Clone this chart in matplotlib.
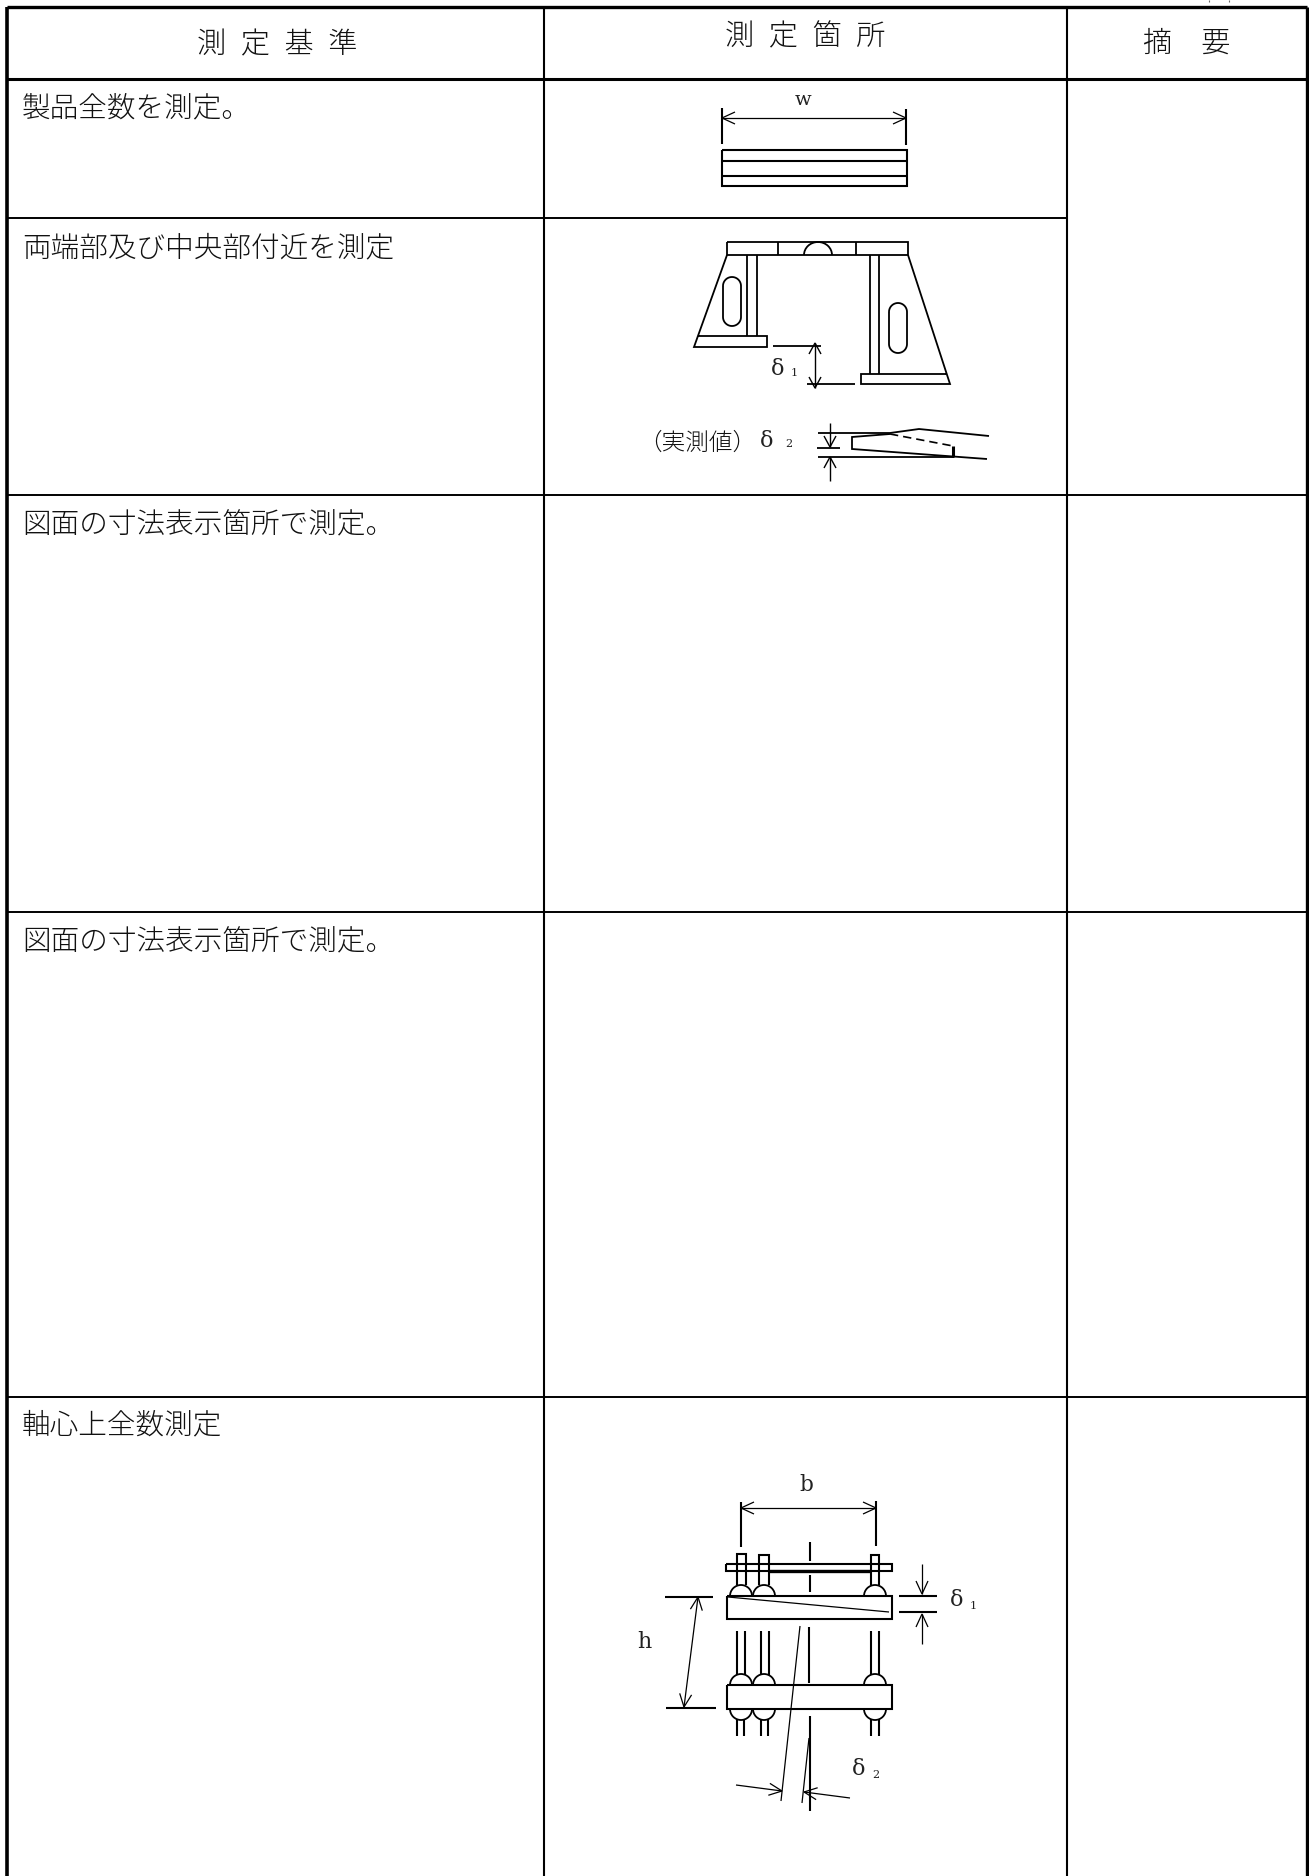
import numpy as np
import matplotlib
matplotlib.use("Agg")
import matplotlib.pyplot as plt
from matplotlib.patches import Arc

W, H = 1309, 1876
JP = ['Noto Sans CJK JP', 'DejaVu Sans']
SERIF = ['DejaVu Serif', 'Liberation Serif']
INK = '#111111'

# ---- table structure ----
col_edges = [7, 544, 1067, 1307]
row_edges = [7, 79, 218, 495, 912, 1397]
headers = ['測\u2002定\u2002基\u2002準', '測\u2002定\u2002箇\u2002所', '摘\u3000要']
header_pos = [(277, 45), (805, 37), (1187, 43)]
criteria = ['製品全数を測定。', '両端部及び中央部付近を測定', '図面の寸法表示箇所で測定。',
            '図面の寸法表示箇所で測定。', '軸心上全数測定']
criteria_y = [108, 248, 525, 942, 1425]

# ---- sketch 1 : width ----
w_rect = [(722, 150), (907, 150), (907, 186), (722, 186), (722, 150)]
w_inner = [[(722, 161), (907, 161)], [(722, 176), (907, 176)]]
w_ext = [[(722, 108), (722, 144)], [(906, 109), (906, 145)]]
w_arrow = [(722, 118), (906, 118)]

# ---- sketch 2 : bracket ----
br_lines = [
    [(727, 242), (908, 242), (908, 255), (727, 255), (727, 242)],
    [(778, 242), (778, 255)], [(856, 242), (856, 255)],
    [(727, 255), (694, 347), (767, 347), (767, 336), (698, 336)],
    [(747, 255), (747, 336)], [(757, 255), (757, 336)],
    [(908, 255), (950, 384), (861, 384), (861, 374), (946, 374)],
    [(870, 255), (870, 374)], [(879, 255), (879, 374)],
    [(773, 346), (821, 346)], [(807, 384), (855, 384)],
    [(818, 433), (890, 433), (919, 429), (989, 436)],
    [(817, 448), (840, 448)],
    [(818, 457), (954, 457)],
    [(890, 434), (852, 437), (852, 449), (987, 459)],
]
br_thick = [[(953, 446), (953, 457)]]
br_dash = [(890, 434), (953, 446)]
br_dome = (818, 255, 28, 26)
br_slots = [(723, 741, 277, 326), (889, 907, 303, 353)]
br_arrows = [((815, 343), (815, 388), True), ((830, 423), (830, 447), False), ((830, 481), (830, 457), False)]

# ---- sketch 3 : frame ----
fr_lines = [
    [(741, 1502), (741, 1547)], [(876, 1501), (876, 1546)],
    [(810, 1542), (810, 1561)], [(810, 1575), (810, 1592)],
    [(809, 1627), (809, 1683)], [(810, 1716), (810, 1811)],
    [(726, 1564), (892, 1564), (892, 1571), (726, 1571), (726, 1564)],
    [(737, 1585), (737, 1554), (746, 1554), (746, 1585)],
    [(759, 1585), (759, 1555), (769, 1555), (769, 1585)],
    [(871, 1585), (871, 1555), (879, 1555), (879, 1585)],
    [(727, 1596), (892, 1596), (892, 1619), (727, 1619), (727, 1596)],
    [(727, 1685), (892, 1685), (892, 1709), (727, 1709), (727, 1685)],
    [(737, 1631), (737, 1675)], [(745, 1631), (745, 1675)],
    [(761, 1631), (761, 1675)], [(769, 1631), (769, 1675)],
    [(871, 1631), (871, 1675)], [(879, 1631), (879, 1675)],
    [(737, 1719), (737, 1736)], [(744, 1719), (744, 1736)],
    [(761, 1719), (761, 1736)], [(768, 1719), (768, 1736)],
    [(871, 1719), (871, 1736)], [(879, 1719), (879, 1736)],
    [(665, 1597), (713, 1597)], [(666, 1708), (716, 1708)],
    [(899, 1596), (937, 1596)], [(899, 1612), (937, 1612)],
]
fr_thin = [
    [(728, 1597), (889, 1612)],
    [(800, 1626), (781, 1801)],
    [(809, 1738), (802, 1803)],
]
fr_dome_x = [741, 764, 875]
fr_dome_y = [(1596, True), (1685, True), (1709, False)]
fr_arrows = [
    ((741, 1508), (876, 1508), True),
    ((698, 1597), (684, 1707), True),
    ((922, 1564), (922, 1594), False),
    ((922, 1644), (922, 1614), False),
    ((736, 1785), (782, 1791), False),
    ((850, 1798), (804, 1792), False),
]

# ---- labels ----
latin_labels = [('w', 803, 100, 14), ('b', 806, 1485, 15.5), ('h', 644, 1642, 16),
                ('δ', 778, 369, 16), ('1', 794, 373, 8),
                ('δ', 767, 441, 16), ('2', 789, 444, 8),
                ('δ', 957, 1600, 16), ('1', 973, 1606, 8),
                ('δ', 859, 1769, 16), ('2', 876, 1775, 8)]
jp_labels = [('（実測値）', 697, 443, 17)]
stray = [[(1209, 0), (1209, 2)], [(1229, 0), (1229, 2)]]

fig = plt.figure(figsize=(W / 100, H / 100), dpi=100, facecolor='white')
ax = fig.add_axes([0, 0, 1, 1])
ax.set_xlim(0, W)
ax.set_ylim(H, 0)
ax.axis('off')


def poly(points, lw=1.4, color='black', ls='-'):
    xs, ys = zip(*points)
    ax.plot(xs, ys, color=color, lw=lw, ls=ls, solid_capstyle='butt', solid_joinstyle='miter')


def arrow(start, end, both, lw=0.9, length=13, half=6):
    s, e = np.array(start, float), np.array(end, float)
    poly([start, end], lw=lw)
    targets = [(e, s)] + ([(s, e)] if both else [])
    for tip, tail in targets:
        d = (tail - tip) / np.linalg.norm(tail - tip)
        n = np.array([-d[1], d[0]])
        poly([tuple(tip + d * length + n * half), tuple(tip), tuple(tip + d * length - n * half)], lw=lw)


# table
for x, lw in zip(col_edges, [2.6, 1.5, 1.5, 2.4]):
    ax.plot([x, x], [row_edges[0], H], color='black', lw=lw, solid_capstyle='butt')
ax.plot([col_edges[0], col_edges[-1]], [row_edges[0]] * 2, color='black', lw=2.4, solid_capstyle='butt')
ax.plot([col_edges[0], col_edges[-1]], [row_edges[1]] * 2, color='black', lw=2.2, solid_capstyle='butt')
ax.plot([col_edges[0], col_edges[2]], [row_edges[2]] * 2, color='black', lw=1.4, solid_capstyle='butt')
for y in row_edges[3:]:
    ax.plot([col_edges[0], col_edges[-1]], [y, y], color='black', lw=1.4, solid_capstyle='butt')

for label, (x, y) in zip(headers, header_pos):
    ax.text(x, y, label, family=JP, fontsize=21, ha='center', va='center', color=INK, fontweight='light')
for label, y in zip(criteria, criteria_y):
    ax.text(22, y, label, family=JP, fontsize=20.6, ha='left', va='center', color=INK, fontweight='light')

# sketch 1
poly(w_rect, 1.5)
for seg in w_inner + w_ext:
    poly(seg, 1.5)
arrow(w_arrow[0], w_arrow[1], True)

# sketch 2
for seg in br_lines:
    poly(seg, 1.3)
for seg in br_thick:
    poly(seg, 2.2)
poly(br_dash, 1.2, ls=(0, (5, 3)))
ax.add_patch(Arc(br_dome[:2], br_dome[2], br_dome[3], theta1=180, theta2=360, lw=1.3, color='black'))
for x0, x1, y0, y1 in br_slots:
    r = (x1 - x0) / 2
    t = np.linspace(np.pi, 2 * np.pi, 30)
    top = [(x0 + r + r * np.cos(a), y0 + r + r * np.sin(a)) for a in t]
    bot = [(x0 + r - r * np.cos(a), y1 - r - r * np.sin(a)) for a in t]
    poly(top + bot + [top[0]], 1.3)
for s, e, both in br_arrows:
    arrow(s, e, both, lw=1.0, length=11, half=6)

# sketch 3
for seg in fr_lines:
    poly(seg, 1.5)
poly([(768, 1571), (871, 1571)], 2.4)
for seg in fr_thin:
    poly(seg, 0.9)
for y, up in fr_dome_y:
    for x in fr_dome_x:
        t1, t2 = (180, 360) if up else (0, 180)
        ax.add_patch(Arc((x, y), 22, 22, theta1=t1, theta2=t2, lw=1.3, color='black'))
for s, e, both in fr_arrows:
    arrow(s, e, both, lw=0.9, length=13, half=6)

for label, x, y, size in latin_labels:
    ax.text(x, y, label, family=SERIF, fontsize=size, ha='center', va='center', color='#222222')
for label, x, y, size in jp_labels:
    ax.text(x, y, label, family=JP, fontsize=size, ha='center', va='center', color=INK, fontweight='light')
for seg in stray:
    poly(seg, 0.8, color='#666666')

fig.savefig('out.png', dpi=100, facecolor='white')
